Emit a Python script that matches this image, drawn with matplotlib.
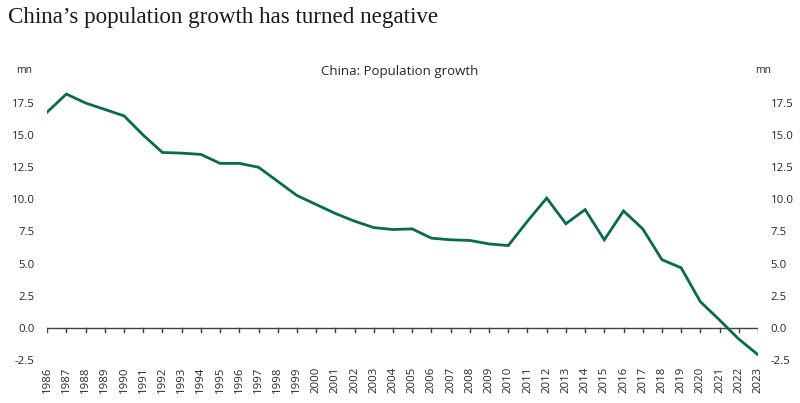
import matplotlib
matplotlib.use("Agg")
import matplotlib.pyplot as plt
import numpy as np

years = list(range(1986, 2024))
growth = [16.8, 18.2, 17.5, 17.0, 16.5, 15.0, 13.65, 13.6, 13.5, 12.8, 12.8, 12.5,
          11.4, 10.3, 9.6, 8.9, 8.3, 7.8, 7.65, 7.7, 6.98, 6.85, 6.8, 6.53, 6.4,
          8.3, 10.1, 8.1, 9.2, 6.85, 9.1, 7.7, 5.3, 4.67, 2.03, 0.6, -0.88, -2.1]
yticks = [-2.5, 0.0, 2.5, 5.0, 7.5, 10.0, 12.5, 15.0, 17.5]

title = "China\u2019s population growth has turned negative"
chart_title = "China: Population growth"
unit = "mn"

line_color = "#0a6a4f"
text_color = "#262626"

fig = plt.figure(figsize=(8.0, 4.03), dpi=100)
ax = fig.add_axes([0.059, 0.107, 0.8885, 0.717])

x = np.arange(len(years))
ax.plot(x, growth, color=line_color, lw=2.0, solid_joinstyle="miter")

ax.set_xlim(0, len(years) - 1)
ax.set_ylim(-2.5, 20)

for s in ["top", "right", "left", "bottom"]:
    ax.spines[s].set_visible(False)

ax.axhline(0, color="#404040", lw=1.0, zorder=1)
for xi in x:
    ax.plot([xi, xi], [0, -0.35], color="#404040", lw=1.0, zorder=1)

ax.set_yticks(yticks)
ax.set_yticklabels([f"{v:.1f}" for v in yticks])
ax.tick_params(axis="y", length=0, labelsize=8.2, colors=text_color, pad=9,
               labelleft=True, labelright=True)
for lab in ax.get_yticklabels() + ax.yaxis.get_ticklabels(which="both"):
    lab.set_fontfamily("Open Sans")
for t in ax.yaxis.get_major_ticks():
    t.label2.set_fontfamily("Open Sans")

ax.set_xticks(x)
ax.set_xticklabels([str(y) for y in years], rotation=90, fontsize=8.2,
                   color=text_color, family="Open Sans")
ax.tick_params(axis="x", length=0, pad=5)

ax.text(-0.033, 20, unit, transform=ax.get_yaxis_transform(), ha="center",
        va="center", fontsize=7.5, color=text_color, family="Open Sans")
ax.text(1.007, 20, unit, transform=ax.get_yaxis_transform(), ha="center",
        va="center", fontsize=7.5, color=text_color, family="Open Sans")

fig.text(0.5, 1 - 71 / 403, chart_title, ha="center", va="center", fontsize=9.5,
         color=text_color, family="Open Sans")
fig.text(0.01, 1 - 18 / 403, title, ha="left", va="center", fontsize=16.6,
         color="#1a1a1a", family="Liberation Serif")

fig.savefig("out.png", dpi=100)
